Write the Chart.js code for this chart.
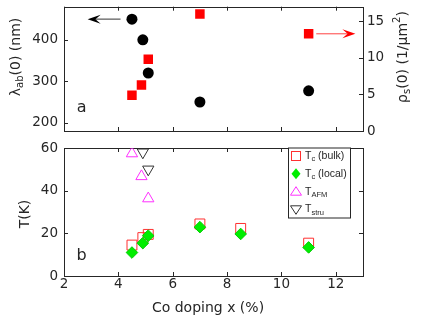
<!DOCTYPE html>
<html>
<head>
<meta charset="utf-8">
<script src="https://cdn.jsdelivr.net/npm/chart.js@4.4.0/dist/chart.umd.min.js"></script>
<style>
  body { margin: 0; background: #fff; }
  #top { position: absolute; left: 0; top: 0; width: 429px; height: 140px; }
  #bot { position: absolute; left: 0; top: 140px; width: 429px; height: 182px; }
</style>
</head>
<body>
<div id="top"><canvas id="cTop"></canvas></div>
<div id="bot"><canvas id="cBot"></canvas></div>
<script>
// panel a: penetration depth + superfluid density
const dopingLam = [4.5, 4.9, 5.1, 7, 11];
const lambdaAb = [450, 400, 320, 250, 277];
const dopingRho = [4.5, 4.85, 5.1, 7, 11];
const rhoS = [4.9, 6.3, 9.8, 16.0, 13.3];

// panel b: transition temperatures
const dopingTc = [4.5, 4.9, 5.1, 7, 8.5, 11];
const tcBulk = [14.5, 18, 19.5, 24.4, 22.3, 15.4];
const tcLocal = [11, 15.4, 18.9, 22.9, 19.7, 13.4];
const dopingAfm = [4.5, 4.85, 5.1];
const tAfm = [57.4, 46.7, 36.3];
const dopingStru = [4.9, 5.1];
const tStru = [58, 50];

const xTicks = [2, 4, 6, 8, 10, 12];
const lamTicks = [200, 300, 400];
const rhoTicks = [0, 5, 10, 15];
const tTicks = [0, 20, 40, 60];

const FONT = '"DejaVu Sans", sans-serif';
const INK = '#262626';

const dataOf = (xs, ys) => xs.map((x, i) => ({x: x, y: ys[i]}));
const setTicks = vals => s => { s.ticks = vals.map(v => ({value: v})); };

// text with sub/superscripts, kind 1 = sub, 2 = sup
function rich(ctx, parts, x, y, size, rot, align, family) {
  family = family || FONT;
  const fontFor = k => (k ? size * 0.72 : size) + 'px ' + family;
  let w = 0;
  parts.forEach(p => { ctx.font = fontFor(p[1]); w += ctx.measureText(p[0]).width; });
  ctx.save();
  ctx.translate(x, y);
  ctx.rotate(rot || 0);
  ctx.fillStyle = INK;
  ctx.textBaseline = 'middle';
  ctx.textAlign = 'left';
  let cx = align === 'left' ? 0 : -w / 2;
  parts.forEach(p => {
    ctx.font = fontFor(p[1]);
    const dy = p[1] === 1 ? size * 0.32 : p[1] === 2 ? -size * 0.38 : 0;
    ctx.fillText(p[0], cx, dy);
    cx += ctx.measureText(p[0]).width;
  });
  ctx.restore();
}

function arrow(ctx, x1, y, x2, lineCol, headCol, len, half) {
  const d = Math.sign(x2 - x1);
  ctx.save();
  ctx.strokeStyle = lineCol;
  ctx.lineWidth = 1.2;
  ctx.beginPath();
  ctx.moveTo(x1, y);
  ctx.lineTo(x2 - d * len * 0.6, y);
  ctx.stroke();
  ctx.fillStyle = headCol;
  ctx.beginPath();
  ctx.moveTo(x2, y);
  ctx.lineTo(x2 - d * len, y - half);
  ctx.lineTo(x2 - d * len * 0.6, y);
  ctx.lineTo(x2 - d * len, y + half);
  ctx.closePath();
  ctx.fill();
  ctx.restore();
}

// MATLAB style box with inward ticks
const frame = {
  id: 'frame',
  beforeDatasetsDraw(chart, args, opts) {
    const {ctx, chartArea: a, scales} = chart;
    const L = 4;
    ctx.save();
    ctx.strokeStyle = INK;
    ctx.lineWidth = 1;
    ctx.strokeRect(Math.round(a.left) + 0.5, Math.round(a.top) + 0.5,
      Math.round(a.right - a.left), Math.round(a.bottom - a.top));
    ctx.beginPath();
    xTicks.forEach(v => {
      const px = Math.round(scales.x.getPixelForValue(v)) + 0.5;
      ctx.moveTo(px, a.bottom); ctx.lineTo(px, a.bottom - L);
      ctx.moveTo(px, a.top); ctx.lineTo(px, a.top + L);
    });
    opts.sides.forEach(sd => {
      sd.vals.forEach(v => {
        const py = Math.round(scales[sd.id].getPixelForValue(v)) + 0.5;
        if (sd.side === 'left') { ctx.moveTo(a.left, py); ctx.lineTo(a.left + L, py); }
        else { ctx.moveTo(a.right, py); ctx.lineTo(a.right - L, py); }
      });
    });
    ctx.stroke();
    ctx.restore();
  }
};

const yAxis = (pos, min, max, vals, width, pad) => ({
  type: 'linear', position: pos, min: min, max: max,
  grid: {display: false, drawTicks: false},
  border: {display: false},
  ticks: {padding: pad, color: INK, font: {family: FONT, size: 13.5}},
  afterBuildTicks: setTicks(vals),
  afterFit: s => { s.width = width; s.paddingTop = 0; s.paddingBottom = 0; }
});

// panel a
new Chart(document.getElementById('cTop'), {
  type: 'scatter',
  data: {
    datasets: [{
      data: dataOf(dopingLam, lambdaAb),
      yAxisID: 'yL',
      pointStyle: 'circle',
      pointRadius: 5.5,
      backgroundColor: '#000',
      borderWidth: 0
    }, {
      data: dataOf(dopingRho, rhoS),
      yAxisID: 'yR',
      pointStyle: 'rect',
      pointRadius: 6.7,
      backgroundColor: '#ff0000',
      borderWidth: 0
    }]
  },
  options: {
    responsive: true,
    maintainAspectRatio: false,
    animation: false,
    layout: {padding: {top: 6, bottom: 9, left: 0, right: 0}},
    plugins: {
      legend: {display: false},
      tooltip: {enabled: false},
      frame: {sides: [{id: 'yL', vals: lamTicks, side: 'left'}, {id: 'yR', vals: rhoTicks, side: 'right'}]}
    },
    scales: {
      x: {type: 'linear', min: 2, max: 13, display: false},
      yL: yAxis('left', 180, 480, lamTicks, 64, 6),
      yR: yAxis('right', 0, 17, rhoTicks, 66, 4)
    }
  },
  plugins: [frame, {
    id: 'notesA',
    afterDraw(chart) {
      const {ctx, scales} = chart;
      const x = scales.x, yL = scales.yL, yR = scales.yR;
      arrow(ctx, x.getPixelForValue(4.08), yL.getPixelForValue(450), x.getPixelForValue(2.87), '#555', '#000', 13, 4.5);
      arrow(ctx, x.getPixelForValue(11.28), yR.getPixelForValue(13.3), x.getPixelForValue(12.72), '#ff6060', '#ff0000', 13, 4.5);
      rich(ctx, [['a', 0]], x.getPixelForValue(2.65), yL.getPixelForValue(237), 16, 0, 'center');
      rich(ctx, [['\u03bb', 0], ['ab', 1], ['(0) (nm)', 0]], 16, 57, 14, -Math.PI / 2, 'center');
      rich(ctx, [['\u03c1', 0], ['s', 1], ['(0) (1/\u03bcm', 0], ['2', 2], [')', 0]], 403, 57, 14, -Math.PI / 2, 'center');
    }
  }]
});

// panel b
new Chart(document.getElementById('cBot'), {
  type: 'scatter',
  data: {
    datasets: [{
      data: dataOf(dopingTc, tcLocal),
      pointStyle: 'rectRot',
      pointRadius: 5.8,
      backgroundColor: '#00ee00',
      borderColor: '#00cc00',
      borderWidth: 1
    }, {
      data: dataOf(dopingTc, tcBulk),
      pointStyle: 'rect',
      pointRadius: 7,
      backgroundColor: 'rgba(0,0,0,0)',
      borderColor: '#ff3030',
      borderWidth: 1
    }, {
      data: dataOf(dopingAfm, tAfm),
      pointStyle: 'triangle',
      pointRadius: 6.5,
      backgroundColor: 'rgba(0,0,0,0)',
      borderColor: '#ff30ff',
      borderWidth: 1
    }, {
      data: dataOf(dopingStru, tStru),
      pointStyle: 'triangle',
      rotation: 180,
      pointRadius: 6.5,
      backgroundColor: 'rgba(0,0,0,0)',
      borderColor: '#333',
      borderWidth: 1
    }]
  },
  options: {
    responsive: true,
    maintainAspectRatio: false,
    animation: false,
    layout: {padding: {top: 5, bottom: 0, left: 0, right: 66}},
    plugins: {
      legend: {display: false},
      tooltip: {enabled: false},
      frame: {sides: [{id: 'y', vals: tTicks, side: 'left'}, {id: 'y', vals: tTicks, side: 'right'}]}
    },
    scales: {
      x: {
        type: 'linear', min: 2, max: 13,
        grid: {display: false, drawTicks: false},
        border: {display: false},
        ticks: {padding: 0, color: INK, font: {family: FONT, size: 13.5}},
        afterBuildTicks: setTicks(xTicks),
        afterFit: s => { s.height = 46; s.paddingLeft = 0; s.paddingRight = 0; }
      },
      y: yAxis('left', 0, 60, tTicks, 64, 6)
    }
  },
  plugins: [frame, {
    id: 'notesB',
    afterDraw(chart) {
      const {ctx, scales} = chart;
      rich(ctx, [['b', 0]], scales.x.getPixelForValue(2.65), scales.y.getPixelForValue(9.6), 16, 0, 'center');
      rich(ctx, [['T(K)', 0]], 25, 74, 14, -Math.PI / 2, 'center');
      rich(ctx, [['Co doping x (%)', 0]], 208, 168, 14, 0, 'center');

      // legend box
      const bx = 288, by = 7.5, bw = 62, bh = 70;
      ctx.save();
      ctx.fillStyle = '#fff';
      ctx.fillRect(bx, by, bw, bh);
      ctx.strokeStyle = INK;
      ctx.lineWidth = 1;
      ctx.strokeRect(bx + 0.5, by + 0.5, bw, bh);
      const mx = 296, rows = [16, 33.7, 51.7, 69.3];
      ctx.lineWidth = 1;
      // open square
      ctx.strokeStyle = '#ff3030';
      ctx.strokeRect(mx - 4.5, rows[0] - 4.5, 9, 9);
      // filled diamond
      ctx.fillStyle = '#00ee00';
      ctx.beginPath();
      ctx.moveTo(mx, rows[1] - 5.5); ctx.lineTo(mx + 4.5, rows[1]);
      ctx.lineTo(mx, rows[1] + 5.5); ctx.lineTo(mx - 4.5, rows[1]);
      ctx.closePath(); ctx.fill();
      // up triangle
      ctx.strokeStyle = '#ff30ff';
      ctx.beginPath();
      ctx.moveTo(mx, rows[2] - 5); ctx.lineTo(mx + 5.5, rows[2] + 3.5); ctx.lineTo(mx - 5.5, rows[2] + 3.5);
      ctx.closePath(); ctx.stroke();
      // down triangle
      ctx.strokeStyle = '#333';
      ctx.beginPath();
      ctx.moveTo(mx, rows[3] + 5); ctx.lineTo(mx + 5.5, rows[3] - 3.5); ctx.lineTo(mx - 5.5, rows[3] - 3.5);
      ctx.closePath(); ctx.stroke();
      ctx.restore();
      const LF = '"Liberation Sans", Arial, sans-serif';
      rich(ctx, [['T', 0], ['c', 1], [' (bulk)', 0]], 305, rows[0], 10.5, 0, 'left', LF);
      rich(ctx, [['T', 0], ['c', 1], [' (local)', 0]], 305, rows[1], 10.5, 0, 'left', LF);
      rich(ctx, [['T', 0], ['AFM', 1]], 305, rows[2], 10.5, 0, 'left', LF);
      rich(ctx, [['T', 0], ['stru', 1]], 305, rows[3], 10.5, 0, 'left', LF);
    }
  }]
});
</script>
</body>
</html>
